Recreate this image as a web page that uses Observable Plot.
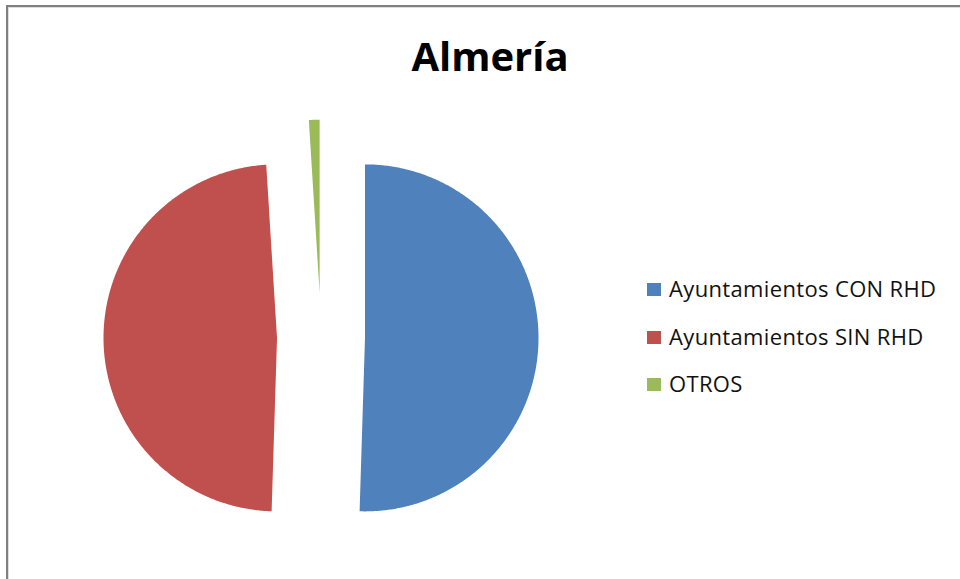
<!DOCTYPE html>
<html>
<head>
<meta charset="utf-8">
<script src="https://cdn.jsdelivr.net/npm/d3@7"></script>
<script src="https://cdn.jsdelivr.net/npm/@observablehq/plot@0.6"></script>
<style>
  html, body { margin: 0; padding: 0; background: #fff; }
  #wrap { position: relative; width: 960px; height: 579px; overflow: hidden; font-family: "Open Sans", sans-serif; }
  #frame { position: absolute; left: 6px; top: 5px; width: 1000px; height: 1000px;
           border-top: 2px solid #808080; border-left: 2px solid #808080; box-sizing: border-box; }
  #frame2 { position: absolute; left: 8px; top: 7px; width: 1000px; height: 1000px;
           border-top: 1px solid #dcdcdc; border-left: 1px solid #dcdcdc; box-sizing: border-box; }
  #title { position: absolute; left: 0; width: 980px; top: 36px; text-align: center;
           font-weight: 700; font-size: 40px; line-height: 40px; color: #000; }
  .leg { position: absolute; left: 647px; height: 22px; font-size: 22px; line-height: 22px;
         letter-spacing: 0.35px; color: #111; white-space: nowrap; }
  .sw { position: absolute; left: 0; width: 14px; height: 13px; }
  .lt { position: absolute; left: 22px; top: 0; }
  #chart { position: absolute; left: 0; top: 0; }
</style>
</head>
<body>
<div id="wrap">
  <div id="frame"></div>
  <div id="frame2"></div>
  <div id="chart"></div>
  <div id="title"></div>
  <div id="legend"></div>
</div>
<script>
// ---- data ----
const title = "Almería";
const categories = ["Ayuntamientos CON RHD", "Ayuntamientos SIN RHD", "OTROS"];
const values = [51, 49, 1];
const colors = ["#4f81bd", "#c0504d", "#9bbb59"];

// ---- layout ----
const W = 960, H = 579;
const cx = 320.5, cy = 336.7, R = 173.5, explode = 44;

const data = categories.map((name, i) => ({name, value: values[i]}));
const arcs = d3.pie().value(d => d.value).sort(null)(data);

// build slice outlines from the pie angles
const pts = [];
for (const a of arcs) {
  const mid = (a.startAngle + a.endAngle) / 2;
  const ox = cx + explode * Math.sin(mid), oy = cy - explode * Math.cos(mid);
  pts.push({name: a.data.name, x: ox, y: oy});
  const n = Math.max(4, Math.ceil((a.endAngle - a.startAngle) / (Math.PI / 360)));
  for (let k = 0; k <= n; k++) {
    const t = a.startAngle + (a.endAngle - a.startAngle) * k / n;
    pts.push({name: a.data.name, x: ox + R * Math.sin(t), y: oy - R * Math.cos(t)});
  }
}

const plot = Plot.plot({
  width: W, height: H,
  margin: 0,
  x: {domain: [0, W], range: [0, W], axis: null},
  y: {domain: [0, H], range: [0, H], axis: null},
  color: {domain: categories, range: colors},
  marks: [
    Plot.line(pts, {x: "x", y: "y", z: "name", fill: "name", stroke: "none", curve: "linear-closed"})
  ]
});
plot.style.background = "transparent";
document.getElementById("chart").appendChild(plot);

document.getElementById("title").textContent = title;

const legend = document.getElementById("legend");
const legTops = [276.5, 324.5, 372];
categories.forEach((c, i) => {
  const row = document.createElement("div");
  row.className = "leg";
  row.style.top = legTops[i] + "px";
  const sw = document.createElement("div");
  sw.className = "sw";
  sw.style.background = colors[i];
  sw.style.top = "6px";
  const t = document.createElement("div");
  t.className = "lt";
  t.textContent = c;
  row.appendChild(sw); row.appendChild(t);
  legend.appendChild(row);
});
</script>
</body>
</html>
